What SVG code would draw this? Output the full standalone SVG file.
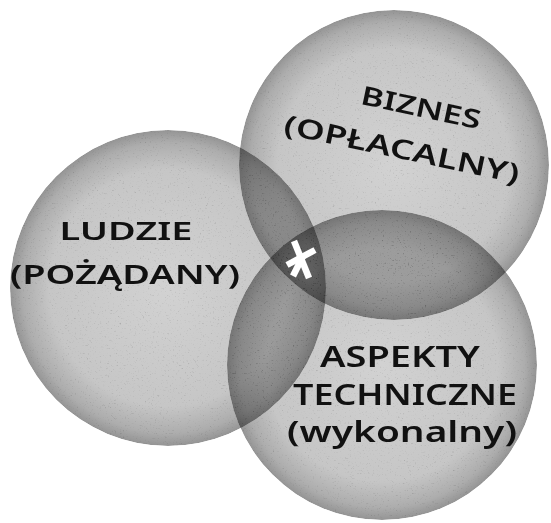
<svg xmlns="http://www.w3.org/2000/svg" width="551" height="523" viewBox="0 0 551 523">
  <defs>
    <radialGradient id="disc" cx="50%" cy="50%" r="50%">
      <stop offset="0" stop-color="#d2d2d2"/>
      <stop offset="0.75" stop-color="#c6c6c6"/>
      <stop offset="0.92" stop-color="#adadad"/>
      <stop offset="1" stop-color="#949494"/>
    </radialGradient>
    <filter id="tex" x="-2%" y="-2%" width="104%" height="104%" color-interpolation-filters="sRGB">
      <feTurbulence type="fractalNoise" baseFrequency="0.6" numOctaves="3" seed="4" result="n"/>
      <feColorMatrix in="n" type="matrix" values="0.2 0.2 0.2 0 0.74  0.2 0.2 0.2 0 0.74  0.2 0.2 0.2 0 0.74  0 0 0 0 1" result="g"/>
      <feBlend in="SourceGraphic" in2="g" mode="multiply" result="b"/>
      <feComposite in="b" in2="SourceAlpha" operator="in"/>
    </filter>
  </defs>
  <style>
    .disc { fill: url(#disc); filter: url(#tex); mix-blend-mode: multiply; }
    .lbl { font-family: "Noto Sans", "DejaVu Sans", sans-serif; font-weight: 600; fill: #111; text-anchor: middle; }
    .star { stroke: #ffffff; stroke-width: 6.5; stroke-linecap: butt; fill: none; }
  </style>

  <g id="ludzie">
    <circle class="disc" cx="168" cy="288" r="158"/>
    <text class="lbl" x="126" y="240" font-size="25" textLength="133" lengthAdjust="spacingAndGlyphs">LUDZIE</text>
    <text class="lbl" x="125" y="284" font-size="27" textLength="230" lengthAdjust="spacingAndGlyphs">(POŻĄDANY)</text>
  </g>

  <g id="biznes">
    <circle class="disc" cx="394" cy="165" r="155"/>
    <g transform="rotate(12 410 135)">
      <text class="lbl" x="415" y="115" font-size="26" textLength="122" lengthAdjust="spacingAndGlyphs">BIZNES</text>
      <text class="lbl" x="405" y="160" font-size="27" textLength="240" lengthAdjust="spacingAndGlyphs">(OPŁACALNY)</text>
    </g>
  </g>

  <g id="aspekty">
    <circle class="disc" cx="382" cy="365" r="155"/>
    <text class="lbl" x="400" y="367" font-size="29" textLength="160" lengthAdjust="spacingAndGlyphs">ASPEKTY</text>
    <text class="lbl" x="405" y="405" font-size="29" textLength="224" lengthAdjust="spacingAndGlyphs">TECHNICZNE</text>
    <text class="lbl" x="402" y="442" font-size="29" textLength="230" lengthAdjust="spacingAndGlyphs">(wykonalny)</text>
  </g>

  <g id="connectors"></g>

  <g id="asterisk">
    <line class="star" x1="294" y1="241" x2="309" y2="278"/>
    <line class="star" x1="287" y1="265" x2="315" y2="250"/>
    <line class="star" x1="293" y1="276" x2="303" y2="256"/>
  </g>
</svg>
